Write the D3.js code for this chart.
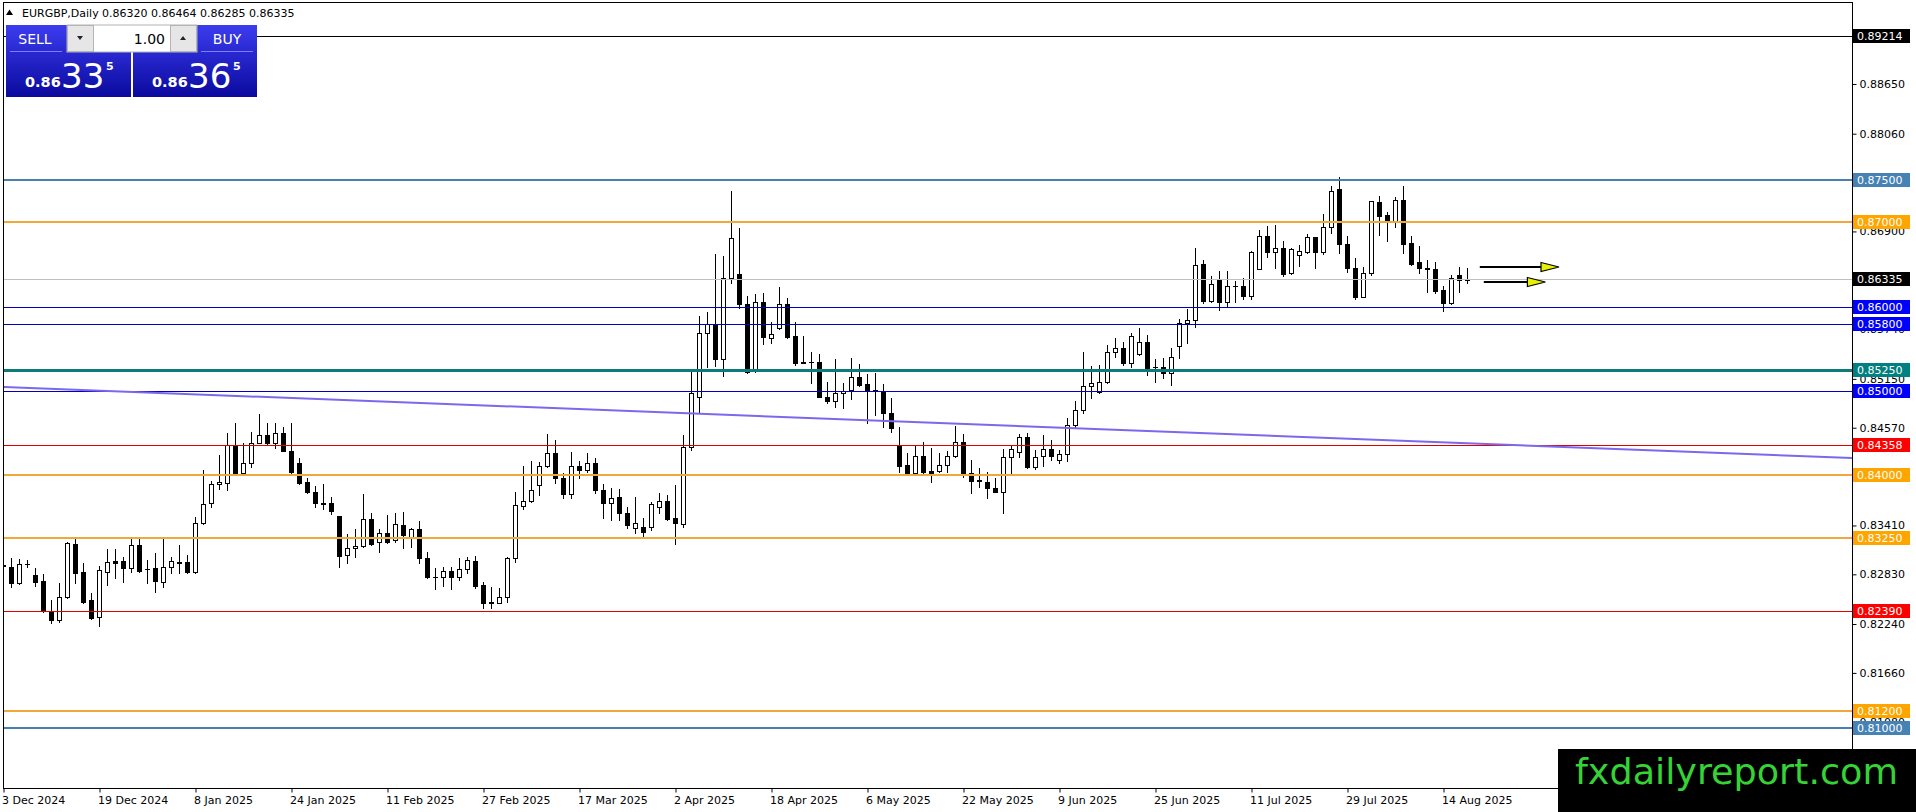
<!DOCTYPE html>
<html>
<head>
<meta charset="utf-8">
<script src="https://cdn.jsdelivr.net/npm/d3@7"></script>
<style>
  body { margin: 0; background: #fff; overflow: hidden; }
  svg { display: block; }
  text { font-family: "DejaVu Sans", Tahoma, sans-serif; }
</style>
</head>
<body>
<div id="chart"></div>
<script>
// header
const symbolName = "EURGBP,Daily";
const lastQuote = [0.86320, 0.86464, 0.86285, 0.86335]; // O H L C
const sellPrice = ["0.86", "33", "5"];
const buyPrice = ["0.86", "36", "5"];
const lotSize = "1.00";

// trading days (weekdays from 3 Dec 2024, without these holidays)
const firstDay = "2024-12-03";
const holidays = ["2024-12-25", "2025-01-01"];

const opens = [
  0.82935, 0.82907, 0.82725, 0.82942, 0.82816, 0.82744, 0.82392, 0.82281, 0.82558, 0.83184,
  0.82847, 0.82519, 0.82313, 0.82855, 0.82978, 0.82982, 0.82903, 0.83168, 0.82887, 0.82895,
  0.82736, 0.82907, 0.82962, 0.82966, 0.82855, 0.83429, 0.83666, 0.83892, 0.83912, 0.84359,
  0.84030, 0.84141, 0.84387, 0.84478, 0.84379, 0.84497, 0.84292, 0.84141, 0.83916, 0.83797,
  0.83670, 0.83674, 0.83516, 0.83053, 0.83132, 0.83160, 0.83477, 0.83204, 0.83310, 0.83231,
  0.83409, 0.83271, 0.83362, 0.83013, 0.82788, 0.82788, 0.82863, 0.82796, 0.82883, 0.82982,
  0.82697, 0.82487, 0.82487, 0.82551, 0.83013, 0.83639, 0.83698, 0.83884, 0.84110, 0.84260,
  0.83963, 0.83773, 0.84110, 0.84062, 0.84149, 0.83825, 0.83666, 0.83738, 0.83548, 0.83370,
  0.83390, 0.83390, 0.83627, 0.83698, 0.83488, 0.83420, 0.84339, 0.84925, 0.85684, 0.85795,
  0.85376, 0.86337, 0.86385, 0.86029, 0.85237, 0.86052, 0.85625, 0.85744, 0.86029, 0.85653,
  0.85348, 0.85340, 0.85348, 0.84933, 0.84885, 0.84972, 0.85012, 0.85162, 0.85083, 0.85012,
  0.85004, 0.84735, 0.84347, 0.84122, 0.84030, 0.84228, 0.84050, 0.84054, 0.84122, 0.84228,
  0.84398, 0.84030, 0.83936, 0.83916, 0.83845, 0.83805, 0.84212, 0.84280, 0.84450, 0.84094,
  0.84228, 0.84307, 0.84181, 0.84248, 0.84596, 0.84774, 0.85063, 0.84992, 0.85111, 0.85467,
  0.85506, 0.85336, 0.85439, 0.85578, 0.85281, 0.85289, 0.85210, 0.85538, 0.85803, 0.85843,
  0.86504, 0.86072, 0.86318, 0.86052, 0.86246, 0.86250, 0.86132, 0.86448, 0.86844, 0.86654,
  0.86701, 0.86397, 0.86614, 0.86654, 0.86824, 0.86654, 0.86951, 0.87394, 0.86741, 0.86456,
  0.86120, 0.86405, 0.87240, 0.87089, 0.87022, 0.87267, 0.86753, 0.86531, 0.86456, 0.86448,
  0.86199, 0.86049, 0.86377, 0.86320
];
const highs = [
  0.83121, 0.83013, 0.83002, 0.82994, 0.82895, 0.82827, 0.82519, 0.82725, 0.83211, 0.83259,
  0.82954, 0.82598, 0.82926, 0.83121, 0.83124, 0.83033, 0.83251, 0.83271, 0.82994, 0.83073,
  0.83259, 0.83033, 0.83172, 0.83053, 0.83508, 0.84062, 0.83931, 0.84240, 0.84497, 0.84624,
  0.84387, 0.84517, 0.84723, 0.84624, 0.84624, 0.84569, 0.84624, 0.84201, 0.83963, 0.83872,
  0.83896, 0.83738, 0.83520, 0.83302, 0.83358, 0.83777, 0.83556, 0.83358, 0.83528, 0.83556,
  0.83560, 0.83378, 0.83461, 0.83093, 0.82895, 0.82915, 0.82915, 0.83013, 0.83033, 0.83041,
  0.82737, 0.82669, 0.82658, 0.83025, 0.83797, 0.84110, 0.84169, 0.84161, 0.84490, 0.84418,
  0.84030, 0.84272, 0.84169, 0.84268, 0.84201, 0.83896, 0.83845, 0.83833, 0.83627, 0.83738,
  0.83488, 0.83686, 0.83785, 0.83765, 0.83884, 0.84478, 0.85241, 0.85890, 0.85934, 0.86626,
  0.86602, 0.87374, 0.86931, 0.86128, 0.86148, 0.86159, 0.85815, 0.86239, 0.86108, 0.85823,
  0.85653, 0.85467, 0.85435, 0.85111, 0.85376, 0.85091, 0.85396, 0.85317, 0.85202, 0.85210,
  0.85083, 0.84913, 0.84569, 0.84260, 0.84359, 0.84398, 0.84319, 0.84260, 0.84288, 0.84584,
  0.84486, 0.84181, 0.84082, 0.84042, 0.83963, 0.84307, 0.84359, 0.84486, 0.84497, 0.84300,
  0.84478, 0.84418, 0.84300, 0.84675, 0.84881, 0.85459, 0.85301, 0.85309, 0.85546, 0.85633,
  0.85586, 0.85684, 0.85744, 0.85665, 0.85376, 0.85388, 0.85514, 0.85851, 0.85969, 0.86693,
  0.86555, 0.86365, 0.86428, 0.86424, 0.86306, 0.86337, 0.86666, 0.86911, 0.86959, 0.86970,
  0.86785, 0.86701, 0.86733, 0.86864, 0.86832, 0.87101, 0.87433, 0.87536, 0.86840, 0.86583,
  0.86476, 0.87259, 0.87315, 0.87121, 0.87307, 0.87437, 0.86840, 0.86721, 0.86555, 0.86527,
  0.86247, 0.86377, 0.86476, 0.86464
];
const lows = [
  0.82855, 0.82677, 0.82705, 0.82915, 0.82689, 0.82380, 0.82242, 0.82262, 0.82546, 0.82725,
  0.82487, 0.82297, 0.82210, 0.82697, 0.82776, 0.82736, 0.82855, 0.82855, 0.82717, 0.82618,
  0.82669, 0.82843, 0.82843, 0.82835, 0.82835, 0.83421, 0.83627, 0.83833, 0.83825, 0.84025,
  0.84022, 0.84102, 0.84379, 0.84359, 0.84319, 0.84290, 0.84030, 0.83896, 0.83785, 0.83627,
  0.83595, 0.83536, 0.82907, 0.82962, 0.83033, 0.83152, 0.83172, 0.83093, 0.83200, 0.83204,
  0.83132, 0.83152, 0.82962, 0.82786, 0.82646, 0.82685, 0.82646, 0.82756, 0.82843, 0.82658,
  0.82420, 0.82420, 0.82479, 0.82499, 0.82974, 0.83595, 0.83686, 0.83765, 0.84102, 0.83912,
  0.83726, 0.83734, 0.83971, 0.84042, 0.83793, 0.83488, 0.83469, 0.83469, 0.83370, 0.83311,
  0.83271, 0.83350, 0.83548, 0.83469, 0.83190, 0.83380, 0.84300, 0.84743, 0.85289, 0.85297,
  0.85178, 0.86278, 0.85981, 0.85218, 0.85229, 0.85558, 0.85574, 0.85732, 0.85625, 0.85309,
  0.85328, 0.85099, 0.84925, 0.84861, 0.84814, 0.84794, 0.84901, 0.85059, 0.84616, 0.84715,
  0.84577, 0.84517, 0.84042, 0.84022, 0.84022, 0.84022, 0.83924, 0.84042, 0.84042, 0.84220,
  0.83975, 0.83793, 0.83864, 0.83726, 0.83800, 0.83548, 0.84022, 0.84220, 0.84082, 0.84070,
  0.84110, 0.84181, 0.84141, 0.84173, 0.84557, 0.84743, 0.84921, 0.84980, 0.85099, 0.85408,
  0.85309, 0.85281, 0.85427, 0.85190, 0.85111, 0.85150, 0.85071, 0.85388, 0.85566, 0.85764,
  0.86049, 0.86060, 0.85961, 0.86009, 0.86060, 0.86088, 0.86088, 0.86444, 0.86595, 0.86464,
  0.86365, 0.86389, 0.86488, 0.86634, 0.86456, 0.86626, 0.86880, 0.86642, 0.86417, 0.86088,
  0.86112, 0.86377, 0.86852, 0.86781, 0.86951, 0.86634, 0.86496, 0.86397, 0.86179, 0.86167,
  0.85950, 0.86033, 0.86179, 0.86285
];
const closes = [
  0.82920, 0.82725, 0.82942, 0.82945, 0.82736, 0.82400, 0.82281, 0.82558, 0.83199, 0.82843,
  0.82499, 0.82309, 0.82871, 0.82966, 0.82962, 0.82903, 0.83168, 0.82867, 0.82883, 0.82748,
  0.82907, 0.82982, 0.82970, 0.82855, 0.83437, 0.83662, 0.83892, 0.83916, 0.84359, 0.84030,
  0.84141, 0.84379, 0.84474, 0.84379, 0.84497, 0.84292, 0.84042, 0.83912, 0.83805, 0.83666,
  0.83664, 0.83579, 0.83045, 0.83132, 0.83160, 0.83477, 0.83180, 0.83310, 0.83211, 0.83417,
  0.83291, 0.83362, 0.83013, 0.82788, 0.82790, 0.82863, 0.82796, 0.82883, 0.82994, 0.82685,
  0.82487, 0.82490, 0.82551, 0.83013, 0.83647, 0.83698, 0.83825, 0.84110, 0.84260, 0.83963,
  0.83773, 0.84110, 0.84062, 0.84149, 0.83825, 0.83666, 0.83726, 0.83548, 0.83409, 0.83429,
  0.83330, 0.83659, 0.83698, 0.83481, 0.83429, 0.84339, 0.84980, 0.85684, 0.85795, 0.85376,
  0.86337, 0.86812, 0.86029, 0.85229, 0.86060, 0.85637, 0.85673, 0.86029, 0.85645, 0.85336,
  0.85336, 0.85348, 0.84933, 0.84885, 0.84972, 0.85004, 0.85162, 0.85071, 0.85012, 0.85008,
  0.84735, 0.84557, 0.84114, 0.84030, 0.84228, 0.84042, 0.84030, 0.84122, 0.84228, 0.84398,
  0.84022, 0.83936, 0.83940, 0.83845, 0.83805, 0.84212, 0.84307, 0.84450, 0.84094, 0.84220,
  0.84307, 0.84228, 0.84248, 0.84596, 0.84774, 0.85063, 0.85091, 0.85111, 0.85467, 0.85514,
  0.85336, 0.85653, 0.85578, 0.85269, 0.85285, 0.85210, 0.85408, 0.85803, 0.85843, 0.86496,
  0.86072, 0.86266, 0.86052, 0.86246, 0.86250, 0.86132, 0.86646, 0.86844, 0.86654, 0.86701,
  0.86385, 0.86682, 0.86662, 0.86832, 0.86654, 0.86943, 0.87378, 0.86741, 0.86456, 0.86112,
  0.86405, 0.87255, 0.87081, 0.87022, 0.87263, 0.86741, 0.86508, 0.86456, 0.86444, 0.86187,
  0.86049, 0.86337, 0.86322, 0.86335
];

// axis ticks (the ones fully hidden under level labels are left out)
const dateTickLabels = [
  "3 Dec 2024", "19 Dec 2024", "8 Jan 2025", "24 Jan 2025", "11 Feb 2025", "27 Feb 2025",
  "17 Mar 2025", "2 Apr 2025", "18 Apr 2025", "6 May 2025", "22 May 2025", "9 Jun 2025",
  "25 Jun 2025", "11 Jul 2025", "29 Jul 2025", "14 Aug 2025"
];
const priceTicks = [
  0.88650, 0.88060, 0.86900, 0.85740, 0.85150,
  0.84570, 0.83410, 0.82830, 0.82240, 0.81660, 0.81080
];

// horizontal levels drawn on the chart
const levelPrices = [0.89214, 0.87500, 0.87000, 0.86000, 0.85800, 0.85250, 0.85000,
  0.84358, 0.84000, 0.83250, 0.82390, 0.81200, 0.81000];
const levelKinds = ["black", "steel", "orange", "blue", "blue", "teal", "blue",
  "red", "orange", "orange", "red", "orange", "steel"];

// trend line anchors
const trendDates = ["2024-12-03", "2025-08-19"];
const trendPrices = [0.85048, 0.84380];

// arrows to the right of the last bar (in bars after it)
const arrowPrices = [0.86472, 0.86294];
const arrowFrom = [1.6, 2.1];
const arrowTo = [11.5, 9.8];

// ---- layout ----
const W = 1916, H = 812;
const plot = { left: 3, right: 1852, top: 2, bottom: 788 };
const barStep = 8;
const priceMin = 0.80288, priceMax = 0.89629;

const levelStyle = {
  black:  { line: "#000000", label: "#000000", width: 1 },
  steel:  { line: "#4a7fb0", label: "#4682b4", width: 2 },
  orange: { line: "#f2a73a", label: "#ffa500", width: 2 },
  blue:   { line: "#0000c0", label: "#0000ff", width: 1 },
  teal:   { line: "#0e7b78", label: "#008080", width: 3 },
  red:    { line: "#e00000", label: "#ff0000", width: 1 }
};

const keyFmt = d3.timeFormat("%Y-%m-%d");
const labelFmt = d3.timeFormat("%-d %b %Y");
const dayParse = d3.timeParse("%Y-%m-%d");

const start = dayParse(firstDay);
const days = d3.timeDay.range(start, d3.timeDay.offset(start, 400))
  .filter(d => d.getDay() % 6 !== 0 && !holidays.includes(keyFmt(d)))
  .slice(0, closes.length);

const bars = closes.map((c, i) => ({ i, o: opens[i], h: highs[i], l: lows[i], c }));

const svg = d3.select("#chart").append("svg")
  .attr("width", W)
  .attr("height", H);

svg.append("rect").attr("width", W).attr("height", H).attr("fill", "#fff");

const x = d3.scaleLinear()
  .domain([0, (plot.right - plot.left) / barStep])
  .range([plot.left, plot.right]);
const y = d3.scaleLinear()
  .domain([priceMin, priceMax])
  .range([plot.bottom, plot.top - 1]);

const defs = svg.append("defs");
defs.append("clipPath").attr("id", "plotClip")
  .append("rect")
  .attr("x", plot.left + 1).attr("y", plot.top + 1)
  .attr("width", plot.right - plot.left - 1)
  .attr("height", plot.bottom - plot.top - 1);

const g = svg.append("g").attr("clip-path", "url(#plotClip)");

// candles
const candles = g.append("g").selectAll("g")
  .data(bars)
  .enter()
  .append("g");

candles.append("line")
  .attr("x1", d => x(d.i) + 0.5)
  .attr("x2", d => x(d.i) + 0.5)
  .attr("y1", d => Math.round(y(d.h)))
  .attr("y2", d => Math.round(y(d.l)) + 1)
  .attr("stroke", "#000")
  .attr("stroke-width", 1);

candles.each(function (d) {
  const el = d3.select(this);
  const top = Math.round(y(Math.max(d.o, d.c)));
  const bot = Math.round(y(Math.min(d.o, d.c)));
  const cx = x(d.i);
  if (bot - top < 2) {
    // doji
    el.append("rect")
      .attr("x", cx - 2).attr("y", top)
      .attr("width", 5).attr("height", Math.max(1, bot - top + 1))
      .attr("fill", "#000");
  } else if (d.c >= d.o) {
    el.append("rect")
      .attr("x", cx - 1.5).attr("y", top + 0.5)
      .attr("width", 4).attr("height", bot - top)
      .attr("fill", "#fff")
      .attr("stroke", "#000")
      .attr("stroke-width", 1);
  } else {
    el.append("rect")
      .attr("x", cx - 2).attr("y", top)
      .attr("width", 5).attr("height", bot - top + 1)
      .attr("fill", "#000");
  }
});

// current price line
g.append("line")
  .attr("x1", plot.left).attr("x2", plot.right)
  .attr("y1", Math.round(y(lastQuote[3])) + 0.5)
  .attr("y2", Math.round(y(lastQuote[3])) + 0.5)
  .attr("stroke", "#c0c0c0");

// level lines
levelPrices.forEach((p, k) => {
  const st = levelStyle[levelKinds[k]];
  const yy = Math.round(y(p)) + (st.width % 2 ? 0.5 : 0);
  g.append("line")
    .attr("x1", plot.left).attr("x2", plot.right)
    .attr("y1", yy).attr("y2", yy)
    .attr("stroke", st.line)
    .attr("stroke-width", st.width);
});

// trend line, extended to the right edge
const tIdx = trendDates.map(s => days.findIndex(d => keyFmt(d) === s));
const slope = (trendPrices[1] - trendPrices[0]) / (tIdx[1] - tIdx[0]);
const xEnd = x.domain()[1];
g.append("line")
  .attr("x1", x(tIdx[0])).attr("y1", y(trendPrices[0]))
  .attr("x2", x(xEnd)).attr("y2", y(trendPrices[0] + slope * (xEnd - tIdx[0])))
  .attr("stroke", "#7b68ee")
  .attr("stroke-width", 2);

// arrows
const lastIdx = days.length - 1;
arrowPrices.forEach((p, k) => {
  const ay = Math.round(y(p));
  const x0 = x(lastIdx + arrowFrom[k]);
  const x1 = x(lastIdx + arrowTo[k]);
  const headLen = 18;
  g.append("line")
    .attr("x1", x0).attr("x2", x1 - headLen)
    .attr("y1", ay).attr("y2", ay)
    .attr("stroke", "#000")
    .attr("stroke-width", 2);
  g.append("path")
    .attr("d", `M${x1 - headLen},${ay - 4.5} L${x1},${ay} L${x1 - headLen},${ay + 4.5} Z`)
    .attr("fill", "#e6f000")
    .attr("stroke", "#000")
    .attr("stroke-width", 1.2);
});

// frame
svg.append("rect")
  .attr("x", plot.left + 0.5).attr("y", plot.top + 0.5)
  .attr("width", plot.right - plot.left)
  .attr("height", plot.bottom - plot.top)
  .attr("fill", "none")
  .attr("stroke", "#000");

// bottom axis
const tickIdx = dateTickLabels.map(s => days.findIndex(d => labelFmt(d) === s));
const xAxis = svg.append("g")
  .attr("transform", `translate(0.5,${plot.bottom + 0.5})`)
  .call(d3.axisBottom(x)
    .tickValues(tickIdx)
    .tickFormat(i => labelFmt(days[i]))
    .tickSize(4)
    .tickPadding(4));
xAxis.select(".domain").remove();
xAxis.selectAll("text")
  .attr("text-anchor", "start")
  .attr("dx", "-2")
  .attr("font-size", 11)
  .attr("font-family", "DejaVu Sans, Tahoma, sans-serif")
  .attr("fill", "#000");

// right axis
const yAxis = svg.append("g")
  .attr("transform", `translate(${plot.right + 0.5},0.5)`)
  .call(d3.axisRight(y)
    .tickValues(priceTicks)
    .tickFormat(d3.format(".5f"))
    .tickSize(4)
    .tickPadding(3));
yAxis.select(".domain").remove();
yAxis.selectAll("text")
  .attr("font-size", 11)
  .attr("font-family", "DejaVu Sans, Tahoma, sans-serif")
  .attr("fill", "#000");

// price labels on the right axis
function priceLabel(p, bg) {
  const yy = Math.round(y(p));
  svg.append("rect")
    .attr("x", plot.right + 1).attr("y", yy - 7)
    .attr("width", 57).attr("height", 14)
    .attr("fill", bg);
  svg.append("text")
    .attr("x", plot.right + 5).attr("y", yy + 4)
    .attr("font-size", 11)
    .attr("fill", "#fff")
    .text(d3.format(".5f")(p));
}
levelPrices.forEach((p, k) => priceLabel(p, levelStyle[levelKinds[k]].label));
priceLabel(lastQuote[3], "#000");

// header line
svg.append("path")
  .attr("d", "M6,15 L9.5,9.5 L13,15 Z")
  .attr("fill", "#000");
svg.append("text")
  .attr("x", 22).attr("y", 17)
  .attr("font-size", 11)
  .text(symbolName);
svg.append("text")
  .attr("x", 102).attr("y", 17)
  .attr("font-size", 11)
  .text(lastQuote.map(d3.format(".5f")).join(" "));

// one-click trading panel
const grad = defs.append("linearGradient")
  .attr("id", "panelGrad")
  .attr("x1", 0).attr("y1", 0).attr("x2", 0).attr("y2", 1);
grad.append("stop").attr("offset", "0%").attr("stop-color", "#3c3cf0");
grad.append("stop").attr("offset", "100%").attr("stop-color", "#0a0a9e");

const panel = svg.append("g").attr("font-family", "Liberation Sans, Arial, sans-serif");
panel.append("rect").attr("x", 6).attr("y", 25).attr("width", 125).attr("height", 72)
  .attr("fill", "url(#panelGrad)");
panel.append("rect").attr("x", 133).attr("y", 25).attr("width", 124).attr("height", 72)
  .attr("fill", "url(#panelGrad)");

// lot box
panel.append("rect").attr("x", 67).attr("y", 25).attr("width", 130).attr("height", 27)
  .attr("fill", "#fff").attr("stroke", "#b4b4b4");
panel.append("rect").attr("x", 67.5).attr("y", 25.5).attr("width", 26).attr("height", 26)
  .attr("fill", "#e6e6e6").attr("stroke", "#b4b4b4");
panel.append("rect").attr("x", 170.5).attr("y", 25.5).attr("width", 26).attr("height", 26)
  .attr("fill", "#e6e6e6").attr("stroke", "#b4b4b4");
panel.append("path").attr("d", "M77,36 L83,36 L80,40 Z").attr("fill", "#222");
panel.append("path").attr("d", "M180,40 L186,40 L183,36 Z").attr("fill", "#222");
panel.append("text").attr("x", 165).attr("y", 44).attr("text-anchor", "end")
  .attr("font-size", 14).attr("fill", "#000").text(lotSize);

// SELL / BUY captions
[["SELL", 35, 10, 62], ["BUY", 227, 201, 253]].forEach(([t, cx, l, r]) => {
  panel.append("text").attr("x", cx).attr("y", 44).attr("text-anchor", "middle")
    .attr("font-size", 14).attr("fill", "#fff").text(t);
  panel.append("line").attr("x1", l).attr("x2", r).attr("y1", 51.5).attr("y2", 51.5)
    .attr("stroke", "#7d7dff");
});

// quoted prices
[[sellPrice, 25], [buyPrice, 152]].forEach(([q, x0]) => {
  panel.append("text").attr("x", x0).attr("y", 87)
    .attr("font-size", 14.5).attr("font-weight", "bold").attr("fill", "#fff").text(q[0]);
  panel.append("text").attr("x", x0 + 36).attr("y", 88)
    .attr("font-size", 34).attr("fill", "#fff").text(q[1]);
  panel.append("text").attr("x", x0 + 81).attr("y", 70)
    .attr("font-size", 11).attr("font-weight", "bold").attr("fill", "#fff").text(q[2]);
});

// watermark
svg.append("rect").attr("x", 1558).attr("y", 749).attr("width", 358).attr("height", 63)
  .attr("fill", "#000");
svg.append("text")
  .attr("x", 1575).attr("y", 784)
  .attr("font-family", "Liberation Sans, Arial, sans-serif")
  .attr("font-size", 36)
  .attr("fill", "#35d335")
  .attr("textLength", 323)
  .attr("lengthAdjust", "spacingAndGlyphs")
  .text("fxdailyreport.com");
</script>
</body>
</html>
